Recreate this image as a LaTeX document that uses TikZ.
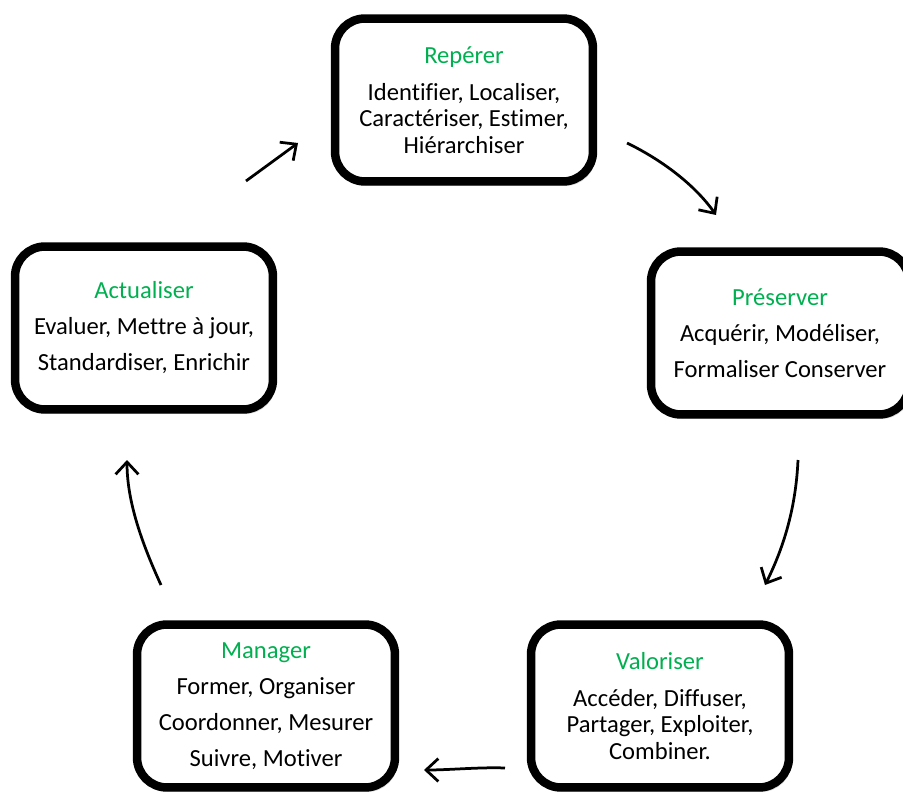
\documentclass[tikz,border=0pt]{standalone}
\usepackage{fontspec}
\setmainfont[Ligatures={NoCommon}]{Carlito}
\usepackage{xcolor}
\definecolor{titlegreen}{RGB}{0,176,80}
\usetikzlibrary{arrows.meta,shadows}
\tikzset{
  etape/.style={draw, line width=0.17cm, rounded corners=0.6cm, fill=white,
    minimum width=5.16cm, minimum height=3.26cm, align=center, inner sep=0pt,
    drop shadow={shadow xshift=1.5pt, shadow yshift=-2.5pt, opacity=0.3}},
  serre/.style={font=\fontsize{14}{15}\selectfont},
  large/.style={font=\fontsize{14}{20.5}\selectfont},
  fleche/.style={line width=0.055cm, -{Straight Barb[length=7pt, width=13pt, line width=0.055cm]}}
}
\newcommand{\titre}[1]{{\color{titlegreen}#1}}

\begin{document}
\begin{tikzpicture}[x=0.02cm, y=-0.02cm]
\useasboundingbox (0,0) rectangle (903,794);

\node[etape, serre] (reperer) at (464,100)
  {\titre{Repérer}\\[6pt] Identifier, Localiser,\\ Caractériser, Estimer,\\ Hiérarchiser};
\node[etape, large] (preserver) at (780,333)
  {\titre{Préserver}\\ Acquérir, Modéliser,\\ Formaliser Conserver};
\node[etape, serre] (valoriser) at (660,706)
  {\titre{Valoriser}\\[6pt] Accéder, Diffuser,\\ Partager, Exploiter,\\ Combiner.};
\node[etape, large] (manager) at (266,706)
  {\titre{Manager}\\ Former, Organiser\\ Coordonner, Mesurer\\ Suivre, Motiver};
\node[etape, large] (actualiser) at (144,328)
  {\titre{Actualiser}\\ Evaluer, Mettre à jour,\\ Standardiser, Enrichir};

\coordinate (a1) at (246,181);
\coordinate (b1) at (298,143);
\coordinate (a2) at (627,143);
\coordinate (b2) at (716,215);
\coordinate (a3) at (798,460);
\coordinate (b3) at (765,585);
\coordinate (a4) at (505,768);
\coordinate (b4) at (424,770);
\coordinate (a5) at (161,585);
\coordinate (b5) at (127,460);

\draw[fleche] (a1) -- (b1);
\draw[fleche] (a2) .. controls (662,160) and (695,185) .. (b2);
\draw[fleche] (a3) .. controls (796,505) and (785,545) .. (b3);
\draw[fleche] (a4) .. controls (480,767) and (450,770) .. (b4);
\draw[fleche] (a5) .. controls (145,550) and (127,505) .. (b5);
\end{tikzpicture}
\end{document}
